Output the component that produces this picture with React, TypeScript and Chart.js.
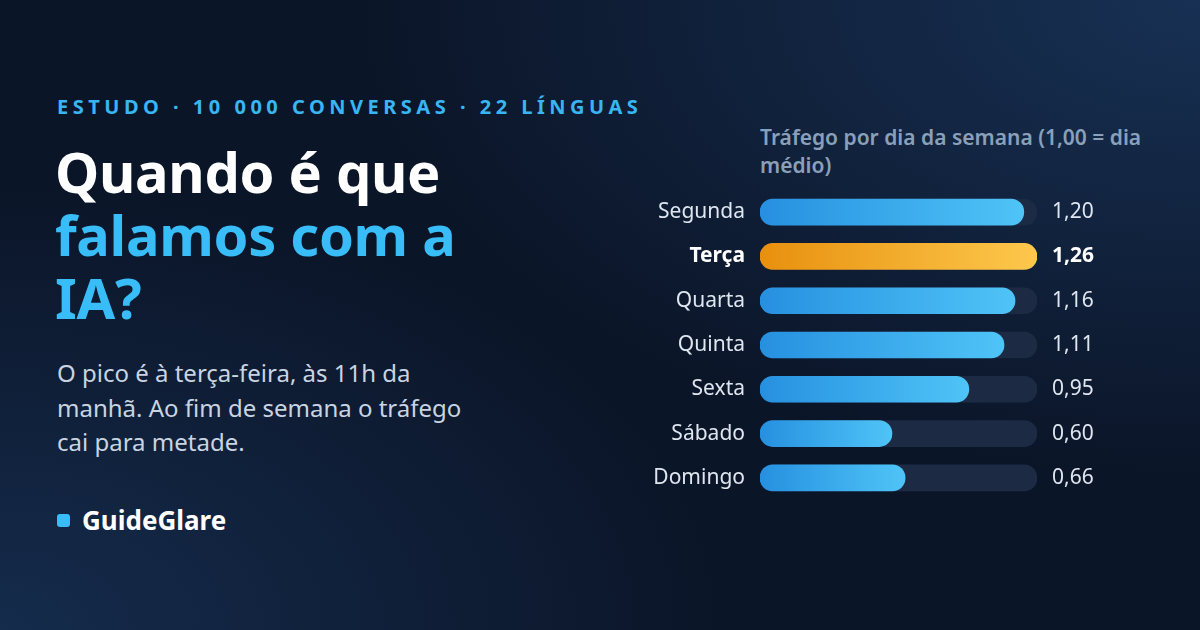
import React, { useEffect, useRef } from "react";
import { Chart, registerables } from "chart.js";

Chart.register(...registerables);

const days = ["Segunda", "Terça", "Quarta", "Quinta", "Sexta", "Sábado", "Domingo"];
const traffic = [1.2, 1.26, 1.16, 1.11, 0.95, 0.6, 0.66];
const valueLabels = ["1,20", "1,26", "1,16", "1,11", "0,95", "0,60", "0,66"];
const trackMax = 1.26;
const highlightIndex = 1;

const FONT = "'Noto Sans', 'Open Sans', sans-serif";

export default function App() {
  const canvasRef = useRef<HTMLCanvasElement | null>(null);

  useEffect(() => {
    document.body.style.margin = "0";
    const canvas = canvasRef.current;
    if (!canvas) return;

    const valuePlugin = {
      id: "valueLabels",
      afterDatasetsDraw(chart: any) {
        const { ctx, chartArea } = chart;
        const meta = chart.getDatasetMeta(1);
        ctx.save();
        ctx.textBaseline = "middle";
        ctx.textAlign = "left";
        meta.data.forEach((bar: any, i: number) => {
          const hi = i === highlightIndex;
          ctx.font = `${hi ? "700" : "400"} 21px ${FONT}`;
          ctx.fillStyle = hi ? "#ffffff" : "#dfe6ef";
          ctx.fillText(valueLabels[i], chartArea.right + 15, bar.y);
        });
        ctx.restore();
      },
    };

    const barFill = (context: any) => {
      const chart = context.chart;
      const area = chart.chartArea;
      if (!area || context.type !== "data") return "#2f9be6";
      const xs = chart.scales.x;
      const end = xs ? xs.getPixelForValue(traffic[context.dataIndex]) : area.right;
      const g = chart.ctx.createLinearGradient(area.left, 0, Math.max(end, area.left + 1), 0);
      if (context.dataIndex === highlightIndex) {
        g.addColorStop(0, "#e8900e");
        g.addColorStop(1, "#fdc84c");
      } else {
        g.addColorStop(0, "#2690e0");
        g.addColorStop(1, "#4fc4f7");
      }
      return g;
    };

    const chart = new Chart(canvas, {
      type: "bar",
      data: {
        labels: days,
        datasets: [
          {
            label: "track",
            data: days.map(() => trackMax),
            backgroundColor: "#1c2a44",
            borderRadius: 13,
            borderSkipped: false,
            barThickness: 26,
            grouped: false,
            order: 2,
          },
          {
            label: "Tráfego",
            data: traffic,
            backgroundColor: barFill,
            borderRadius: 13,
            borderSkipped: false,
            barThickness: 26,
            grouped: false,
            order: 1,
          },
        ],
      },
      options: {
        indexAxis: "y",
        animation: false,
        responsive: false,
        maintainAspectRatio: false,
        layout: { padding: { top: 10, bottom: 10, right: 143, left: 0 } },
        plugins: {
          legend: { display: false },
          tooltip: { enabled: false },
          title: { display: false },
        },
        scales: {
          x: { display: false, min: 0, max: trackMax },
          y: {
            grid: { display: false, drawTicks: false },
            border: { display: false },
            afterFit: (scale: any) => {
              scale.width = 120;
              scale.paddingTop = 0;
              scale.paddingBottom = 0;
            },
            ticks: {
              padding: 15,
              color: (ctx: any) => (ctx.index === highlightIndex ? "#ffffff" : "#dfe6ef"),
              font: (ctx: any) => ({
                family: FONT,
                size: 21,
                weight: ctx.index === highlightIndex ? "bold" : "normal",
              }),
            },
          },
        },
      },
      plugins: [valuePlugin],
    } as any);

    return () => chart.destroy();
  }, []);

  return (
    <div
      style={{
        position: "fixed",
        left: 0,
        top: 0,
        width: 1200,
        height: 630,
        overflow: "hidden",
        fontFamily: FONT,
        background:
          "radial-gradient(ellipse 70% 75% at 100% 0%, rgba(24,50,86,0.95), rgba(24,50,86,0) 100%), radial-gradient(ellipse 60% 70% at 0% 100%, rgba(22,46,80,0.9), rgba(22,46,80,0) 100%), #0b1528",
      }}
    >
      <div
        style={{
          position: "absolute",
          left: 57,
          top: 94,
          fontSize: 20,
          fontWeight: 700,
          letterSpacing: 4.5,
          color: "#38b6f4",
          lineHeight: "26px",
          whiteSpace: "nowrap",
        }}
      >
        ESTUDO · 10 000 CONVERSAS · 22 LÍNGUAS
      </div>
      <div
        style={{
          position: "absolute",
          left: 55,
          top: 140,
          width: 480,
          fontSize: 56,
          fontWeight: 700,
          lineHeight: "63px",
          color: "#ffffff",
          letterSpacing: -0.3,
        }}
      >
        Quando é que <span style={{ color: "#38bdf8" }}>falamos com a IA?</span>
      </div>
      <div
        style={{
          position: "absolute",
          left: 57,
          top: 356,
          width: 432,
          fontSize: 24,
          lineHeight: "34.5px",
          color: "#c9d4e2",
        }}
      >
        O pico é à terça-feira, às 11h da manhã. Ao fim de semana o tráfego cai para metade.
      </div>
      <div style={{ position: "absolute", left: 57, top: 503, display: "flex", alignItems: "center" }}>
        <div style={{ width: 13, height: 13, borderRadius: 3, background: "#38bdf8", marginRight: 12 }} />
        <div style={{ fontSize: 26, fontWeight: 700, color: "#ffffff", lineHeight: "34px" }}>GuideGlare</div>
      </div>
      <div
        style={{
          position: "absolute",
          left: 760,
          top: 123,
          width: 400,
          fontSize: 21,
          fontWeight: 600,
          lineHeight: "28px",
          color: "#8aa0ba",
        }}
      >
        Tráfego por dia da semana (1,00 = dia médio)
      </div>
      <canvas
        ref={canvasRef}
        width={540}
        height={330}
        style={{ position: "absolute", left: 640, top: 180, width: 540, height: 330 }}
      />
    </div>
  );
}
